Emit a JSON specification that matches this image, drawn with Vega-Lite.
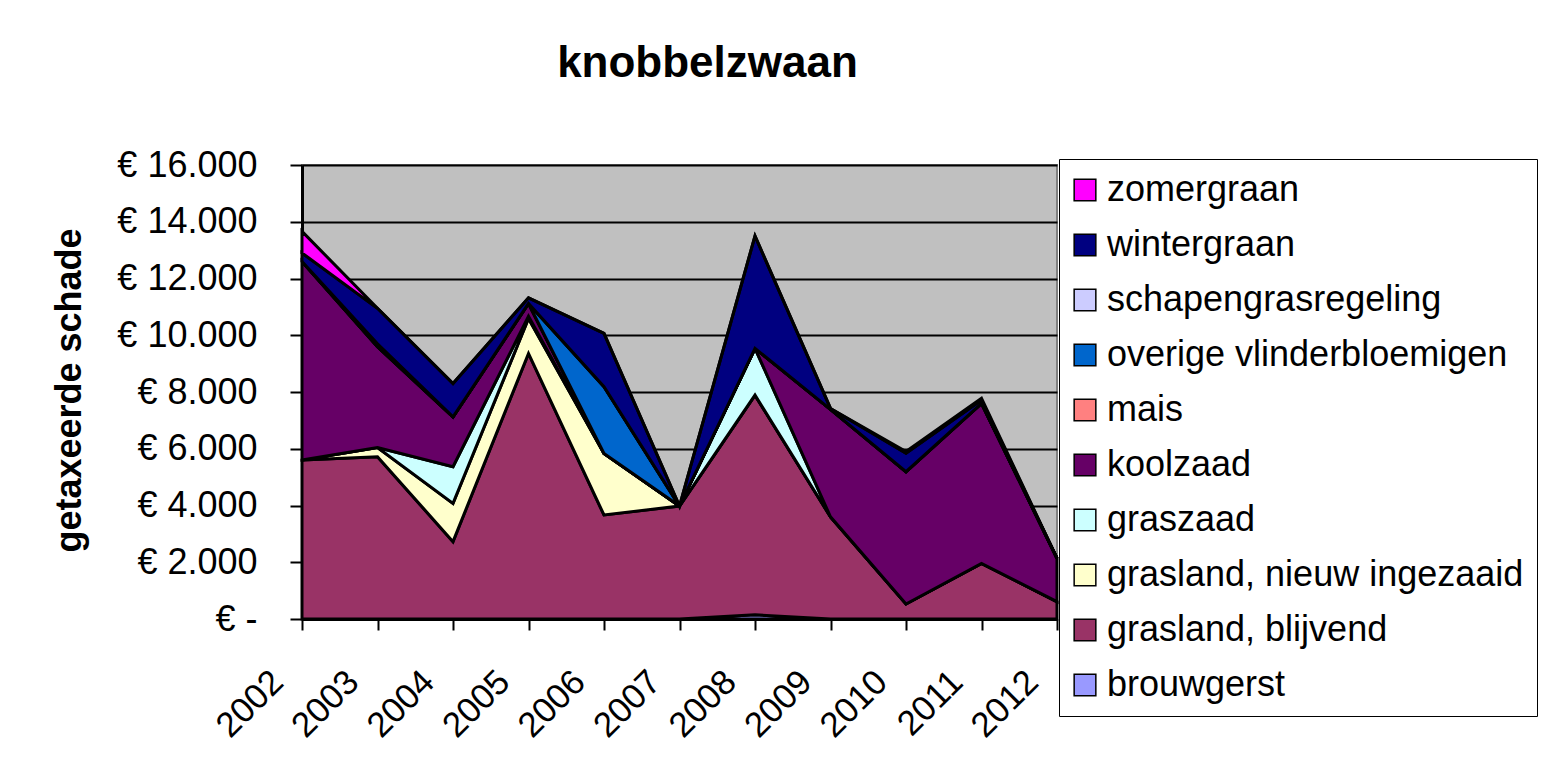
{
  "$schema": "https://vega.github.io/schema/vega-lite/v6.json",
  "width": 755,
  "height": 454,
  "autosize": {"type": "none"},
  "padding": {"left": 302, "top": 165, "right": 484, "bottom": 146},
  "background": "white",
  "title": {
    "text": "knobbelzwaan",
    "fontSize": 44,
    "fontWeight": "bold",
    "color": "black",
    "anchor": "middle",
    "frame": "group",
    "dx": 28,
    "offset": 61
  },
  "data": {
    "values": [
      {"jaar": 2002, "gewas": "brouwgerst", "schade": 0},
      {"jaar": 2002, "gewas": "grasland, blijvend", "schade": 5600},
      {"jaar": 2002, "gewas": "grasland, nieuw ingezaaid", "schade": 0},
      {"jaar": 2002, "gewas": "graszaad", "schade": 0},
      {"jaar": 2002, "gewas": "koolzaad", "schade": 7000},
      {"jaar": 2002, "gewas": "mais", "schade": 0},
      {"jaar": 2002, "gewas": "overige vlinderbloemigen", "schade": 0},
      {"jaar": 2002, "gewas": "schapengrasregeling", "schade": 0},
      {"jaar": 2002, "gewas": "wintergraan", "schade": 300},
      {"jaar": 2002, "gewas": "zomergraan", "schade": 760},

      {"jaar": 2003, "gewas": "brouwgerst", "schade": 0},
      {"jaar": 2003, "gewas": "grasland, blijvend", "schade": 5720},
      {"jaar": 2003, "gewas": "grasland, nieuw ingezaaid", "schade": 320},
      {"jaar": 2003, "gewas": "graszaad", "schade": 0},
      {"jaar": 2003, "gewas": "koolzaad", "schade": 3560},
      {"jaar": 2003, "gewas": "mais", "schade": 0},
      {"jaar": 2003, "gewas": "overige vlinderbloemigen", "schade": 0},
      {"jaar": 2003, "gewas": "schapengrasregeling", "schade": 100},
      {"jaar": 2003, "gewas": "wintergraan", "schade": 1250},
      {"jaar": 2003, "gewas": "zomergraan", "schade": 0},

      {"jaar": 2004, "gewas": "brouwgerst", "schade": 0},
      {"jaar": 2004, "gewas": "grasland, blijvend", "schade": 2725},
      {"jaar": 2004, "gewas": "grasland, nieuw ingezaaid", "schade": 1350},
      {"jaar": 2004, "gewas": "graszaad", "schade": 1290},
      {"jaar": 2004, "gewas": "koolzaad", "schade": 1760},
      {"jaar": 2004, "gewas": "mais", "schade": 0},
      {"jaar": 2004, "gewas": "overige vlinderbloemigen", "schade": 0},
      {"jaar": 2004, "gewas": "schapengrasregeling", "schade": 0},
      {"jaar": 2004, "gewas": "wintergraan", "schade": 1175},
      {"jaar": 2004, "gewas": "zomergraan", "schade": 0},

      {"jaar": 2005, "gewas": "brouwgerst", "schade": 0},
      {"jaar": 2005, "gewas": "grasland, blijvend", "schade": 9360},
      {"jaar": 2005, "gewas": "grasland, nieuw ingezaaid", "schade": 1230},
      {"jaar": 2005, "gewas": "graszaad", "schade": 80},
      {"jaar": 2005, "gewas": "koolzaad", "schade": 450},
      {"jaar": 2005, "gewas": "mais", "schade": 0},
      {"jaar": 2005, "gewas": "overige vlinderbloemigen", "schade": 0},
      {"jaar": 2005, "gewas": "schapengrasregeling", "schade": 0},
      {"jaar": 2005, "gewas": "wintergraan", "schade": 200},
      {"jaar": 2005, "gewas": "zomergraan", "schade": 0},

      {"jaar": 2006, "gewas": "brouwgerst", "schade": 0},
      {"jaar": 2006, "gewas": "grasland, blijvend", "schade": 3665},
      {"jaar": 2006, "gewas": "grasland, nieuw ingezaaid", "schade": 2170},
      {"jaar": 2006, "gewas": "graszaad", "schade": 0},
      {"jaar": 2006, "gewas": "koolzaad", "schade": 0},
      {"jaar": 2006, "gewas": "mais", "schade": 0},
      {"jaar": 2006, "gewas": "overige vlinderbloemigen", "schade": 2350},
      {"jaar": 2006, "gewas": "schapengrasregeling", "schade": 0},
      {"jaar": 2006, "gewas": "wintergraan", "schade": 1880},
      {"jaar": 2006, "gewas": "zomergraan", "schade": 0},

      {"jaar": 2007, "gewas": "brouwgerst", "schade": 0},
      {"jaar": 2007, "gewas": "grasland, blijvend", "schade": 3980},
      {"jaar": 2007, "gewas": "grasland, nieuw ingezaaid", "schade": 0},
      {"jaar": 2007, "gewas": "graszaad", "schade": 0},
      {"jaar": 2007, "gewas": "koolzaad", "schade": 0},
      {"jaar": 2007, "gewas": "mais", "schade": 0},
      {"jaar": 2007, "gewas": "overige vlinderbloemigen", "schade": 0},
      {"jaar": 2007, "gewas": "schapengrasregeling", "schade": 0},
      {"jaar": 2007, "gewas": "wintergraan", "schade": 0},
      {"jaar": 2007, "gewas": "zomergraan", "schade": 0},

      {"jaar": 2008, "gewas": "brouwgerst", "schade": 150},
      {"jaar": 2008, "gewas": "grasland, blijvend", "schade": 7740},
      {"jaar": 2008, "gewas": "grasland, nieuw ingezaaid", "schade": 0},
      {"jaar": 2008, "gewas": "graszaad", "schade": 1650},
      {"jaar": 2008, "gewas": "koolzaad", "schade": 0},
      {"jaar": 2008, "gewas": "mais", "schade": 0},
      {"jaar": 2008, "gewas": "overige vlinderbloemigen", "schade": 0},
      {"jaar": 2008, "gewas": "schapengrasregeling", "schade": 0},
      {"jaar": 2008, "gewas": "wintergraan", "schade": 3960},
      {"jaar": 2008, "gewas": "zomergraan", "schade": 0},

      {"jaar": 2009, "gewas": "brouwgerst", "schade": 0},
      {"jaar": 2009, "gewas": "grasland, blijvend", "schade": 3600},
      {"jaar": 2009, "gewas": "grasland, nieuw ingezaaid", "schade": 0},
      {"jaar": 2009, "gewas": "graszaad", "schade": 0},
      {"jaar": 2009, "gewas": "koolzaad", "schade": 3790},
      {"jaar": 2009, "gewas": "mais", "schade": 0},
      {"jaar": 2009, "gewas": "overige vlinderbloemigen", "schade": 0},
      {"jaar": 2009, "gewas": "schapengrasregeling", "schade": 0},
      {"jaar": 2009, "gewas": "wintergraan", "schade": 30},
      {"jaar": 2009, "gewas": "zomergraan", "schade": 0},

      {"jaar": 2010, "gewas": "brouwgerst", "schade": 0},
      {"jaar": 2010, "gewas": "grasland, blijvend", "schade": 530},
      {"jaar": 2010, "gewas": "grasland, nieuw ingezaaid", "schade": 0},
      {"jaar": 2010, "gewas": "graszaad", "schade": 0},
      {"jaar": 2010, "gewas": "koolzaad", "schade": 4660},
      {"jaar": 2010, "gewas": "mais", "schade": 0},
      {"jaar": 2010, "gewas": "overige vlinderbloemigen", "schade": 0},
      {"jaar": 2010, "gewas": "schapengrasregeling", "schade": 0},
      {"jaar": 2010, "gewas": "wintergraan", "schade": 650},
      {"jaar": 2010, "gewas": "zomergraan", "schade": 60},

      {"jaar": 2011, "gewas": "brouwgerst", "schade": 0},
      {"jaar": 2011, "gewas": "grasland, blijvend", "schade": 1960},
      {"jaar": 2011, "gewas": "grasland, nieuw ingezaaid", "schade": 0},
      {"jaar": 2011, "gewas": "graszaad", "schade": 0},
      {"jaar": 2011, "gewas": "koolzaad", "schade": 5640},
      {"jaar": 2011, "gewas": "mais", "schade": 0},
      {"jaar": 2011, "gewas": "overige vlinderbloemigen", "schade": 0},
      {"jaar": 2011, "gewas": "schapengrasregeling", "schade": 0},
      {"jaar": 2011, "gewas": "wintergraan", "schade": 120},
      {"jaar": 2011, "gewas": "zomergraan", "schade": 60},

      {"jaar": 2012, "gewas": "brouwgerst", "schade": 0},
      {"jaar": 2012, "gewas": "grasland, blijvend", "schade": 610},
      {"jaar": 2012, "gewas": "grasland, nieuw ingezaaid", "schade": 0},
      {"jaar": 2012, "gewas": "graszaad", "schade": 0},
      {"jaar": 2012, "gewas": "koolzaad", "schade": 1530},
      {"jaar": 2012, "gewas": "mais", "schade": 0},
      {"jaar": 2012, "gewas": "overige vlinderbloemigen", "schade": 0},
      {"jaar": 2012, "gewas": "schapengrasregeling", "schade": 0},
      {"jaar": 2012, "gewas": "wintergraan", "schade": 0},
      {"jaar": 2012, "gewas": "zomergraan", "schade": 0}
    ]
  },
  "transform": [
    {"calculate": "indexof(['brouwgerst','grasland, blijvend','grasland, nieuw ingezaaid','graszaad','koolzaad','mais','overige vlinderbloemigen','schapengrasregeling','wintergraan','zomergraan'], datum.gewas)", "as": "volgorde"}
  ],
  "mark": {"type": "area", "stroke": "black", "strokeWidth": 3, "strokeJoin": "miter", "opacity": 1, "fillOpacity": 1},
  "encoding": {
    "x": {
      "field": "jaar",
      "type": "quantitative",
      "scale": {"domain": [2002, 2012], "nice": false, "zero": false},
      "axis": {
        "title": null,
        "values": [2002, 2003, 2004, 2005, 2006, 2007, 2008, 2009, 2010, 2011, 2012],
        "format": "d",
        "grid": false,
        "labelAngle": -45,
        "labelAlign": "right",
        "labelBaseline": "middle",
        "labelPadding": 46,
        "labelOffset": -25,
        "labelFontSize": 35,
        "labelColor": "black",
        "labelOverlap": false,
        "labelFlush": false,
        "tickSize": 11,
        "tickColor": "black",
        "tickWidth": 2,
        "domainColor": "black",
        "domainWidth": 3
      }
    },
    "y": {
      "field": "schade",
      "type": "quantitative",
      "stack": "zero",
      "scale": {"domain": [0, 16000], "nice": false},
      "axis": {
        "title": "getaxeerde schade",
        "titleFontSize": 36,
        "titleFontWeight": "bold",
        "titleColor": "black",
        "titleX": -233,
        "titleY": 225,
        "titleAngle": -90,
        "titleAlign": "center",
        "titleBaseline": "middle",
        "values": [0, 2000, 4000, 6000, 8000, 10000, 12000, 14000, 16000],
        "labelExpr": "datum.value == 0 ? '€ -' : '€ ' + replace(format(datum.value, ',.0f'), ',', '.')",
        "labelFontSize": 36,
        "labelColor": "black",
        "labelPadding": 33,
        "labelFlush": false,
        "tickSize": 12,
        "tickColor": "black",
        "tickWidth": 2,
        "domainColor": "black",
        "domainWidth": 3,
        "grid": true,
        "gridColor": "black",
        "gridWidth": 2
      }
    },
    "color": {
      "field": "gewas",
      "type": "nominal",
      "scale": {
        "domain": ["zomergraan", "wintergraan", "schapengrasregeling", "overige vlinderbloemigen", "mais", "koolzaad", "graszaad", "grasland, nieuw ingezaaid", "grasland, blijvend", "brouwgerst"],
        "range": ["#FF00FF", "#000080", "#CCCCFF", "#0066CC", "#FF8080", "#660066", "#CCFFFF", "#FFFFCC", "#993366", "#9999FF"]
      },
      "legend": {
        "title": null,
        "orient": "none",
        "legendX": 757,
        "legendY": -6,
        "symbolType": "square",
        "symbolSize": 470,
        "symbolStrokeColor": "black",
        "symbolStrokeWidth": 1.5,
        "symbolOpacity": 1,
        "symbolOffset": -5,
        "labelFontSize": 36,
        "labelColor": "black",
        "labelOffset": 4,
        "labelLimit": 600,
        "rowPadding": 19,
        "padding": 13,
        "strokeColor": "black",
        "fillColor": "white"
      }
    },
    "order": {"field": "volgorde", "type": "quantitative", "sort": "ascending"}
  },
  "config": {
    "font": "Liberation Sans",
    "view": {"fill": "#C0C0C0", "stroke": "#808080", "strokeWidth": 2}
  }
}
